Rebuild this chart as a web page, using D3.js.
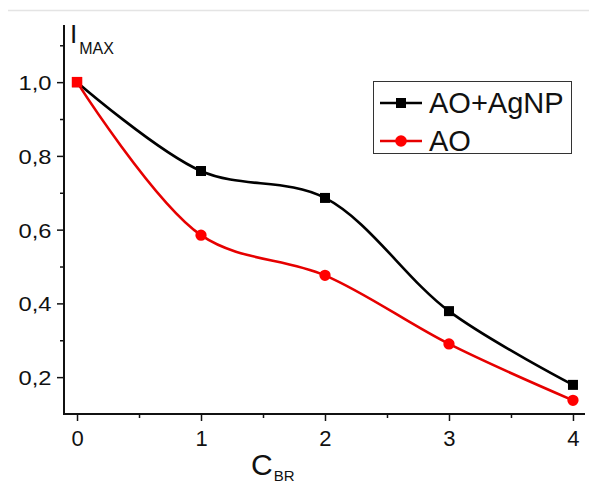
<!DOCTYPE html>
<html>
<head>
<meta charset="utf-8">
<script src="https://cdn.jsdelivr.net/npm/d3@7"></script>
<style>
  html, body { margin: 0; padding: 0; background: #fff; }
  svg { display: block; font-family: "Liberation Sans", Arial, sans-serif; }
</style>
</head>
<body>
<svg id="chart" width="589" height="483"></svg>
<script>
// Concentration of BR (x) and normalised maximum intensity (y)
const concentrations = [0, 1, 2, 3, 4];
const seriesNames = ["AO+AgNP", "AO"];
const aoAgnpValues = [1.0, 0.759, 0.686, 0.379, 0.179];
const aoValues = [1.0, 0.585, 0.476, 0.290, 0.137];
const xTickValues = [0, 1, 2, 3, 4];
const xMinorTicks = [0.5, 1.5, 2.5, 3.5];
const yTickValues = [0.2, 0.4, 0.6, 0.8, 1.0];
const yMinorTicks = [0.3, 0.5, 0.7, 0.9, 1.1];
const yTickLabels = ["0,2", "0,4", "0,6", "0,8", "1,0"];

const svg = d3.select("#chart");

// faint frame line at the top
svg.append("line")
  .attr("x1", 8).attr("x2", 589).attr("y1", 10.5).attr("y2", 10.5)
  .attr("stroke", "#e4e4e4").attr("stroke-width", 1.5);

const x = d3.scaleLinear().domain([-0.105, 4.097]).range([64, 585]);
const y = d3.scaleLinear().domain([0.1, 1.155]).range([414, 25]);

const axisColor = "#111";

// Y axis
const gy = svg.append("g").attr("transform", "translate(64,0)");
gy.call(d3.axisLeft(y).tickValues(yTickValues).tickSize(7).tickFormat((d, i) => yTickLabels[i]));
gy.append("g").call(d3.axisLeft(y).tickValues(yMinorTicks).tickSize(4).tickFormat(""))
  .select(".domain").remove();

// X axis
const gx = svg.append("g").attr("transform", "translate(0,414)");
gx.call(d3.axisBottom(x).tickValues(xTickValues).tickSize(7).tickFormat(d3.format("d")));
gx.append("g").call(d3.axisBottom(x).tickValues(xMinorTicks).tickSize(4).tickFormat(""))
  .select(".domain").remove();

svg.selectAll(".domain").attr("stroke", axisColor).attr("stroke-width", 2);
gy.select(".domain").attr("d", `M0,${y.range()[1]}V${y.range()[0] + 1}`);
gx.select(".domain").attr("d", `M${x.range()[0] - 1},0H${x.range()[1]}`);
svg.selectAll(".tick line").attr("stroke", axisColor).attr("stroke-width", 1.5);

gy.selectAll(".tick text")
  .attr("font-size", 21).attr("fill", "#111").attr("font-family", "Liberation Sans, Arial, sans-serif")
  .attr("x", -11).attr("dy", "0.36em")
  .attr("transform", "scale(1.13,1)");
gx.selectAll(".tick text")
  .attr("font-size", 22).attr("fill", "#111").attr("font-family", "Liberation Sans, Arial, sans-serif")
  .attr("y", 16).attr("dy", "0.71em");

// Axis titles
const yTitle = svg.append("text").attr("x", 70).attr("y", 43)
  .attr("fill", "#111").attr("font-size", 26);
yTitle.append("tspan").text("I");
yTitle.append("tspan").attr("font-size", 16).attr("dx", 2).attr("dy", 11).text("MAX");

const xTitle = svg.append("text").attr("x", 251).attr("y", 475)
  .attr("fill", "#111").attr("font-size", 30);
xTitle.append("tspan").text("C");
xTitle.append("tspan").attr("font-size", 15).attr("dx", 1).attr("dy", 6).text("BR");

// Series
const series = [
  { name: seriesNames[0], values: aoAgnpValues, color: "#000", marker: "square" },
  { name: seriesNames[1], values: aoValues, color: "#e60000", marker: "circle" }
];

const line = d3.line()
  .x((d, i) => x(concentrations[i]))
  .y(d => y(d))
  .curve(d3.curveCatmullRom.alpha(0.5));

series.forEach(s => {
  svg.append("path").datum(s.values)
    .attr("fill", "none").attr("stroke", s.color).attr("stroke-width", 2.6)
    .attr("d", line);
});

// Markers: black squares, red circles; the shared first point is shown as a red square
const sq = 10;
svg.append("g").selectAll("rect").data(aoAgnpValues).join("rect")
  .attr("x", (d, i) => x(concentrations[i]) - sq / 2)
  .attr("y", d => y(d) - sq / 2)
  .attr("width", sq).attr("height", sq).attr("fill", "#000");
svg.append("g").selectAll("path").data(aoValues).join("path")
  .attr("transform", (d, i) => `translate(${x(concentrations[i])},${y(d)})`)
  .attr("d", (d, i) => i === 0
    ? d3.symbol(d3.symbolSquare, 110)()
    : d3.symbol(d3.symbolCircle, 100)())
  .attr("fill", "#ff0000");

// Legend
const legend = svg.append("g");
legend.append("rect").attr("x", 373.5).attr("y", 81.5).attr("width", 198).attr("height", 72)
  .attr("fill", "#fff").attr("stroke", "#333").attr("stroke-width", 1);
series.forEach((s, i) => {
  const ly = 103 + i * 38;
  legend.append("line").attr("x1", 380).attr("x2", 422).attr("y1", ly).attr("y2", ly)
    .attr("stroke", s.color).attr("stroke-width", 2.6);
  if (s.marker === "square") {
    legend.append("rect").attr("x", 401 - 5).attr("y", ly - 5).attr("width", 10).attr("height", 10).attr("fill", "#000");
  } else {
    legend.append("circle").attr("cx", 401).attr("cy", ly).attr("r", 5.8).attr("fill", "#ff0000");
  }
  legend.append("text").attr("x", 429).attr("y", ly + 10).attr("font-size", 29).attr("fill", "#111").text(s.name);
});
</script>
</body>
</html>
